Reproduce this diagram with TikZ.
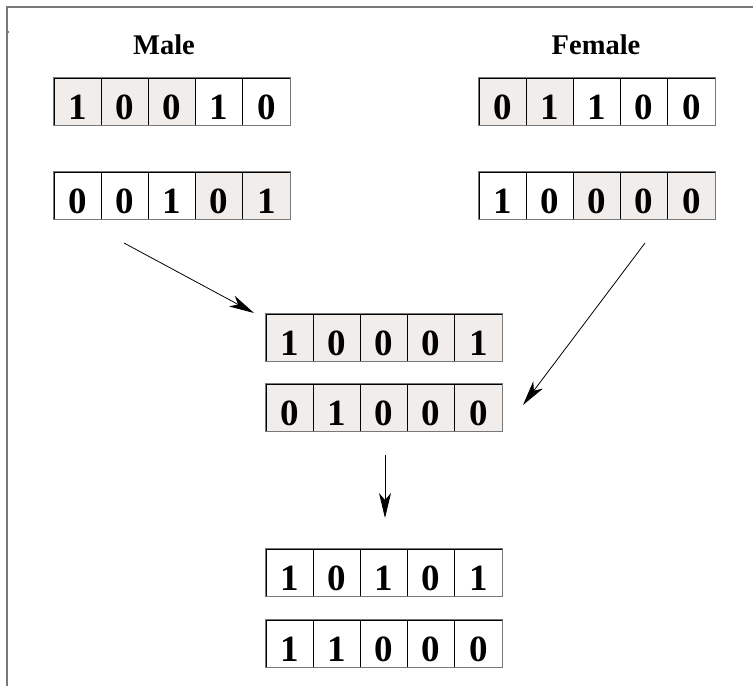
\documentclass[tikz,border=0pt]{standalone}
\usepackage{fontspec}
\setmainfont{Liberation Serif}
\usetikzlibrary{arrows.meta}
\definecolor{shade}{RGB}{240,237,234}
\definecolor{edge}{RGB}{120,120,120}
\tikzset{
  cell/.style={draw=black, line width=0.9pt, minimum width=47.2pt, minimum height=47pt,
    inner sep=0pt, text height=41pt, text depth=6pt,
    font=\fontsize{37}{37}\selectfont\bfseries},
  outer/.style={draw=edge, line width=1pt},
  title/.style={font=\fontsize{28.5}{28.5}\selectfont\bfseries, inner sep=0pt},
  conn/.style={line width=0.8pt, -{Stealth[length=25pt, width=12pt, inset=7pt]}},
  frame/.style={draw=edge, line width=1.2pt}
}
\newcommand\bitrow[4]{%
  \foreach \d/\f [count=\i] in {#4} {
    \node[cell, fill=\f] (#1-\i) at ({#2+(\i-0.5)*47.2}, {#3+23.5}) {\d};
  }
  \draw[outer] (#1-1.north west) rectangle (#1-5.south east);
}
\begin{document}
\begin{tikzpicture}[x=1pt, y=-1pt]
\useasboundingbox (0,0) rectangle (753,686);
% frame
\draw[frame] (7,686) -- (7,7) -- (753,7);
\draw[frame] (7,32) -- (9,32);
% titles
\node[title] (male) at (164,45) {Male};
\node[title] (female) at (596,45) {Female};
% rows
\bitrow{m1}{54}{78}{1/shade,0/shade,0/shade,1/white,0/white}
\bitrow{m2}{54}{172}{0/white,0/white,1/white,0/shade,1/shade}
\bitrow{f1}{479}{78}{0/shade,1/shade,1/white,0/white,0/white}
\bitrow{f2}{479}{172}{1/white,0/white,0/shade,0/shade,0/shade}
\bitrow{c1}{266}{314}{1/shade,0/shade,0/shade,0/shade,1/shade}
\bitrow{c2}{266}{384}{0/shade,1/shade,0/shade,0/shade,0/shade}
\bitrow{o1}{266}{549}{1/white,0/white,1/white,0/white,1/white}
\bitrow{o2}{266}{620}{1/white,1/white,0/white,0/white,0/white}
% connectors
\coordinate (lt) at (124,243);
\coordinate (lh) at (254,313);
\coordinate (rt) at (645,243);
\coordinate (rh) at (523,405);
\coordinate (dt) at (385,455);
\coordinate (dh) at (385,518);
\draw[conn] (lt) -- (lh);
\draw[conn] (rt) -- (rh);
\draw[conn] (dt) -- (dh);
\end{tikzpicture}
\end{document}
